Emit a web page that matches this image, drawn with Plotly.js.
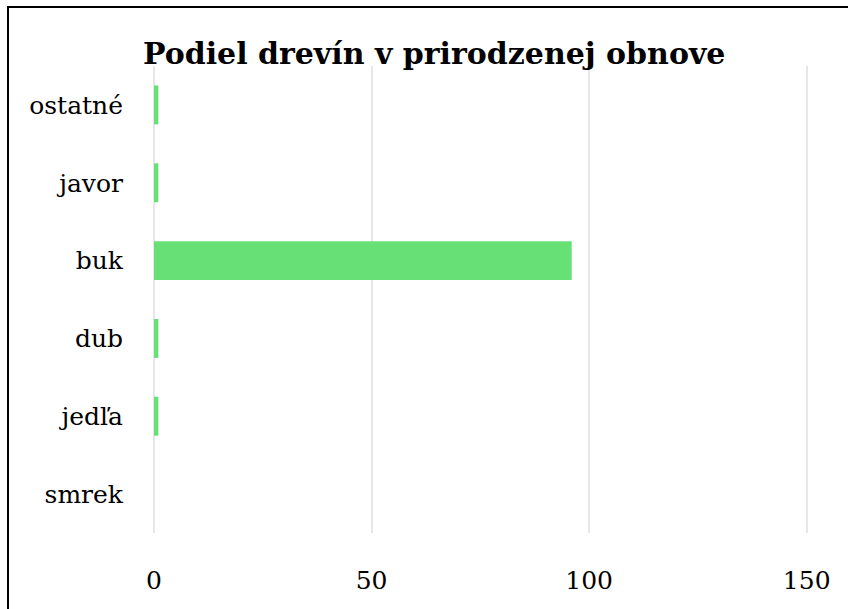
<!DOCTYPE html>
<html>
<head>
<meta charset="utf-8">
<script src="https://cdn.plot.ly/plotly-3.0.1.min.js"></script>
<style>
html,body{margin:0;padding:0;background:#fff;}
#chart{width:848px;height:609px;}
#frame{position:absolute;left:7px;top:6px;width:860px;height:640px;border:2px solid #000;pointer-events:none;}
</style>
</head>
<body>
<div id="chart"></div>
<div id="frame"></div>
<script>
const categories = ["smrek", "jedľa", "dub", "buk", "javor", "ostatné"];
const values = [0, 1, 1, 96, 1, 1];
const tickVals = [0, 50, 100, 150];
const chartTitle = "Podiel drevín v prirodzenej obnove";

const fontFam = "DejaVu Serif, Liberation Serif, serif";

Plotly.newPlot("chart", [{
  type: "bar",
  orientation: "h",
  y: categories,
  x: values,
  marker: {color: "#67e075"},
  hoverinfo: "x+y"
}], {
  width: 848,
  height: 609,
  margin: {l: 154, r: 40, t: 66, b: 76},
  paper_bgcolor: "#fff",
  plot_bgcolor: "#fff",
  bargap: 0.5,
  showlegend: false,
  title: {
    text: "<b>" + chartTitle + "</b>",
    font: {family: fontFam, size: 30, color: "#000"},
    x: 0.512, xanchor: "center",
    y: 0.912, yanchor: "middle"
  },
  xaxis: {
    range: [0, 150.3],
    tickvals: tickVals,
    ticktext: tickVals.map(String),
    showgrid: true,
    gridcolor: "#e6e6ec",
    gridwidth: 2,
    zeroline: true,
    zerolinecolor: "#e6e6ec",
    zerolinewidth: 2,
    showline: false,
    ticks: "",
    ticklen: 0,
    tickfont: {family: fontFam, size: 25, color: "#000"},
    ticklabelstandoff: 30
  },
  yaxis: {
    type: "category",
    categoryorder: "array",
    categoryarray: categories,
    showgrid: false,
    zeroline: false,
    showline: false,
    ticks: "",
    tickfont: {family: fontFam, size: 25, color: "#000"},
    ticklabelstandoff: 30
  }
}, {displayModeBar: false, staticPlot: true});
</script>
</body>
</html>
